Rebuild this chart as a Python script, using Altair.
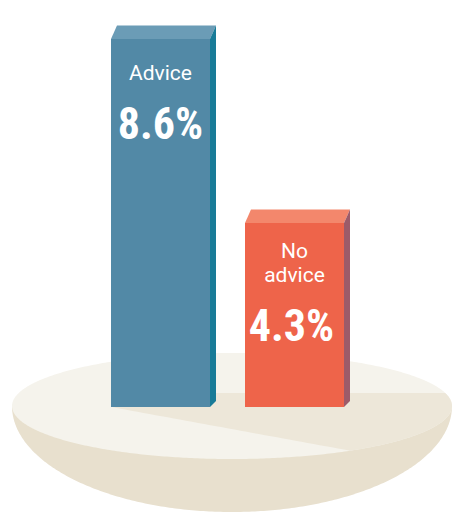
import numpy as np
import pandas as pd
import altair as alt

# ---- data -------------------------------------------------------------
categories = ["Advice", "No advice"]
rates = [8.6, 4.3]                      # percent
label_lines = [["Advice"], ["No", "advice"]]
value_labels = ["8.6%", "4.3%"]

# ---- styling ----------------------------------------------------------
front_colors = ["#5289A6", "#EE644A"]
top_colors = ["#6B9CB6", "#F3876C"]
side_colors = ["#187B98", "#9C5B69"]
disk_light = "#F5F3EC"
disk_shade = "#EDE7D9"
disk_rim = "#E8E0CE"

# ---- layout (canvas pixels) -------------------------------------------
W, H = 460, 523
BASE_PX = 407          # row of the 0 % line
PX_PER_PCT = 42.79     # vertical pixels per percentage point
Y_MAX = BASE_PX / PX_PER_PCT
Y_MIN = (BASE_PX - H) / PX_PER_PCT

BAR_LEFT = [111, 245]
BAR_W = 99
DEPTH_X, DEPTH_Y, FOOT_Y = 6, 13.5, 6

CX, CY, RX, RY, RIM_RY = 232, 406, 220, 53, 106


def val(py):
    """pixel row -> percent value on the y scale"""
    return (BASE_PX - py) / PX_PER_PCT


def dy(px):
    return px / PX_PER_PCT


xs = alt.Scale(domain=[0, W], nice=False, zero=False)
ys = alt.Scale(domain=[Y_MIN, Y_MAX], nice=False, zero=False)


def area_layer(df):
    return alt.Chart(df).mark_area(interpolate="linear").encode(
        x=alt.X("x:Q", scale=xs, axis=None),
        y=alt.Y("y:Q", scale=ys, axis=None, stack=None),
        y2="y2:Q",
        color=alt.Color("fill:N", scale=None),
        detail="face:N",
    )


# ---- base disk --------------------------------------------------------
t = np.linspace(np.pi, 0, 241)
ex = CX + RX * np.cos(t)
s = np.sqrt(np.clip(1 - ((ex - CX) / RX) ** 2, 0, 1))

rim = pd.DataFrame({"x": ex, "y": val(CY + RIM_RY * s), "y2": val(CY),
                    "fill": disk_rim, "face": "rim"})
top = pd.DataFrame({"x": ex, "y": val(CY - RY * s), "y2": val(CY + RY * s),
                    "fill": disk_light, "face": "top"})

# shaded wedge of the disk top
wx = np.concatenate([np.linspace(113, 350, 40), ex[ex > 350.5]])
ws = np.sqrt(np.clip(1 - ((wx - CX) / RX) ** 2, 0, 1))
upper = np.where(wx <= 445, 393.0, CY - RY * ws)
lower = np.where(wx <= 350, 407 + (wx - 111) * (450.7 - 407) / (350 - 111), CY + RY * ws)
wedge = pd.DataFrame({"x": wx, "y": val(upper), "y2": val(lower),
                      "fill": disk_shade, "face": "wedge"})

disk = alt.layer(area_layer(rim), area_layer(top), area_layer(wedge))

# ---- bars -------------------------------------------------------------
bars = pd.DataFrame({
    "category": categories,
    "rate": rates,
    "x0": BAR_LEFT,
    "x1": [b + BAR_W for b in BAR_LEFT],
    "fill": front_colors,
})

fronts = alt.Chart(bars).mark_rect().encode(
    x=alt.X("x0:Q", scale=xs, axis=None),
    x2="x1:Q",
    y=alt.Y("rate:Q", scale=ys, axis=None),
    y2=alt.datum(0),
    color=alt.Color("fill:N", scale=None),
)

rows = []
for i, v in enumerate(rates):
    x0, x1 = BAR_LEFT[i], BAR_LEFT[i] + BAR_W
    # lid
    lid = [(x0, v, v), (x0 + DEPTH_X, v + dy(DEPTH_Y), v),
           (x1, v + dy(DEPTH_Y), v), (x1 + DEPTH_X, v + dy(DEPTH_Y), v + dy(DEPTH_Y))]
    for (x, y, y2) in lid:
        rows.append({"x": x, "y": y, "y2": y2, "fill": top_colors[i], "face": f"lid{i}"})
    # right side
    side = [(x1, v, 0.0), (x1 + DEPTH_X, v + dy(DEPTH_Y), dy(FOOT_Y))]
    for (x, y, y2) in side:
        rows.append({"x": x, "y": y, "y2": y2, "fill": side_colors[i], "face": f"side{i}"})
faces = area_layer(pd.DataFrame(rows))

# ---- labels -----------------------------------------------------------
name_rows, num_rows = [], []
for i, (v, lines, num) in enumerate(zip(rates, label_lines, value_labels)):
    top_px = BASE_PX - v * PX_PER_PCT
    cx = BAR_LEFT[i] + BAR_W / 2
    first = top_px + (41 if len(lines) == 1 else 35)
    for j, line in enumerate(lines):
        name_rows.append({"x": cx, "y": val(first + 24 * j), "text": line})
    last = first + 24 * (len(lines) - 1)
    num_rows.append({"x": cx + (0 if i == 0 else -3), "y": val(last + 59), "text": num})

names = alt.Chart(pd.DataFrame(name_rows)).mark_text(
    font="Roboto", fontSize=21, color="white", align="center",
    baseline="alphabetic",
).encode(x=alt.X("x:Q", scale=xs, axis=None), y=alt.Y("y:Q", scale=ys, axis=None),
         text="text:N")

numbers = alt.Chart(pd.DataFrame(num_rows)).mark_text(
    font="Roboto Condensed", fontSize=44, fontWeight="bold", color="white",
    align="center", baseline="alphabetic",
).encode(x=alt.X("x:Q", scale=xs, axis=None), y=alt.Y("y:Q", scale=ys, axis=None),
         text="text:N")

chart = alt.layer(disk, fronts, faces, names, numbers).properties(
    width=W, height=H, padding=0,
    autosize=alt.AutoSizeParams(type="none"),
    background="white",
).configure_view(stroke=None)

chart.save("out.html", embed_options={"renderer": "svg", "actions": False})
